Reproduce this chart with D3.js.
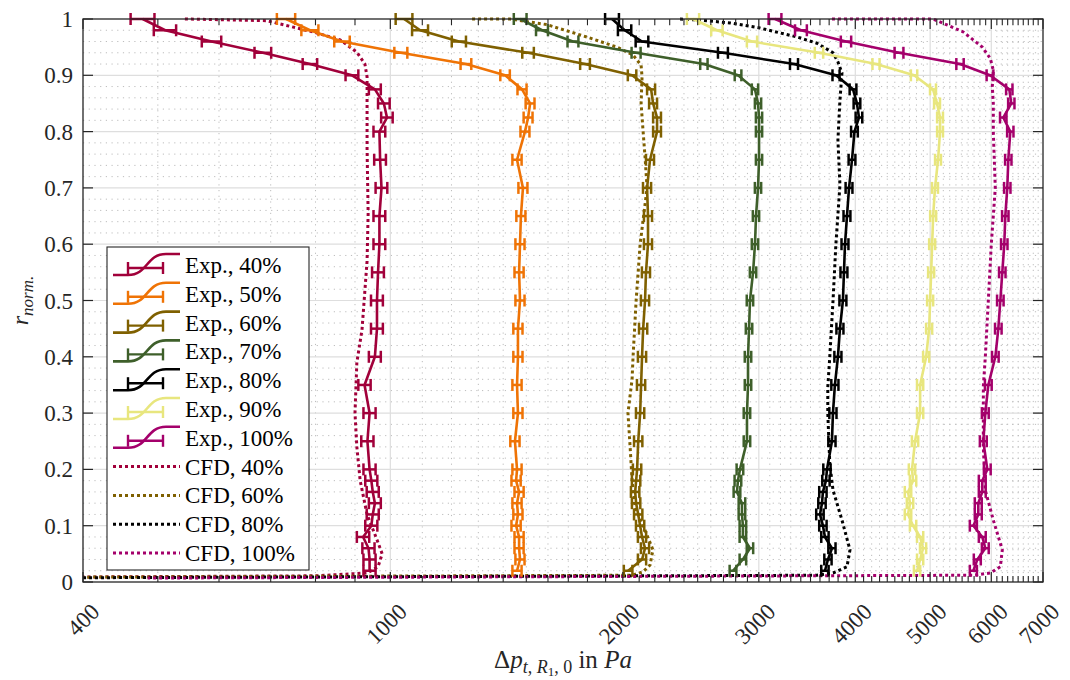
<!DOCTYPE html>
<html>
<head>
<meta charset="utf-8">
<script src="https://cdn.jsdelivr.net/npm/d3@7"></script>
<style>
  body { margin: 0; background: #fff; }
  text { font-family: "Liberation Serif", "Times New Roman", "DejaVu Serif", serif; fill: #262626; }
</style>
</head>
<body>
<div class="chart"></div>
<script>
// radial positions of the measurement points
var rExp = [1.0, 0.98, 0.96, 0.94, 0.92, 0.90, 0.875, 0.85, 0.825, 0.80, 0.75, 0.70, 0.65, 0.60, 0.55,
  0.50, 0.45, 0.40, 0.35, 0.30, 0.25, 0.20, 0.18, 0.16, 0.14, 0.12, 0.10, 0.08, 0.06, 0.04, 0.02];

// measured total pressure rise (Pa)
var exp40 = [478, 511, 587, 684, 787, 892, 955, 981, 990, 968, 970, 974, 968, 968, 964, 961, 961, 955, 926, 940, 934, 940, 945, 949, 955, 949, 945, 922, 937, 940, 940];
var exp50 = [733, 787, 866, 1032, 1253, 1408, 1481, 1517, 1508, 1494, 1459, 1485, 1476, 1472, 1468, 1472, 1463, 1463, 1459, 1463, 1450, 1459, 1455, 1468, 1459, 1463, 1455, 1468, 1468, 1472, 1459];
var exp60 = [1042, 1093, 1227, 1508, 1787, 2056, 2176, 2189, 2215, 2215, 2169, 2150, 2156, 2156, 2143, 2137, 2125, 2118, 2112, 2106, 2094, 2087, 2081, 2075, 2081, 2094, 2106, 2118, 2137, 2118, 2032];
var exp70 = [1473, 1572, 1724, 2081, 2547, 2820, 2966, 2993, 3002, 3002, 3002, 2993, 2975, 2966, 2949, 2922, 2914, 2905, 2905, 2896, 2896, 2836, 2819, 2811, 2853, 2853, 2861, 2861, 2922, 2861, 2778];
var exp80 = [1937, 2011, 2118, 2696, 3332, 3777, 3973, 4020, 4044, 3990, 3961, 3926, 3902, 3879, 3867, 3855, 3821, 3798, 3764, 3742, 3731, 3676, 3665, 3632, 3622, 3600, 3632, 3654, 3731, 3687, 3654];
var exp90 = [2466, 2648, 2940, 3590, 4255, 4766, 5043, 5104, 5150, 5150, 5119, 5073, 5045, 5030, 5015, 5000, 4985, 4941, 4853, 4853, 4780, 4737, 4752, 4681, 4709, 4681, 4752, 4853, 4896, 4853, 4809];
var exp100 = [3149, 3402, 3891, 4557, 5466, 5977, 6331, 6369, 6218, 6350, 6312, 6293, 6256, 6237, 6200, 6164, 6127, 6073, 5947, 5894, 5859, 5929, 5841, 5841, 5772, 5772, 5688, 5841, 5894, 5755, 5688];

// measurement uncertainty (+/- Pa) per speed
var expErr = [17, 20, 26, 28, 40, 45, 60];
var expNames = ["Exp., 40%", "Exp., 50%", "Exp., 60%", "Exp., 70%", "Exp., 80%", "Exp., 90%", "Exp., 100%"];

// CFD profiles
var cfdR40 = [1.0, 0.997, 0.977, 0.963, 0.941, 0.92, 0.897, 0.85, 0.77, 0.655, 0.57, 0.448, 0.39, 0.30, 0.24, 0.18, 0.12, 0.075, 0.05, 0.027, 0.016, 0.011, 0.008];
var cfdP40 = [542, 692, 794, 861, 905, 927, 933, 933, 933, 936, 933, 919, 905, 900, 905, 914, 933, 961, 976, 964, 933, 800, 300];
var cfdR60 = [1.0, 1.0, 0.99, 0.968, 0.95, 0.936, 0.918, 0.897, 0.85, 0.803, 0.755, 0.70, 0.60, 0.50, 0.40, 0.36, 0.30, 0.24, 0.18, 0.133, 0.092, 0.057, 0.03, 0.018, 0.012, 0.008];
var cfdP60 = [1276, 1429, 1595, 1797, 1966, 2062, 2112, 2118, 2112, 2124, 2137, 2150, 2106, 2081, 2062, 2056, 2031, 2044, 2056, 2075, 2137, 2188, 2169, 2124, 2056, 300];
var cfdR80 = [1.0, 0.998, 0.993, 0.984, 0.968, 0.957, 0.94, 0.924, 0.904, 0.856, 0.785, 0.705, 0.60, 0.50, 0.40, 0.346, 0.30, 0.21, 0.163, 0.11, 0.057, 0.027, 0.016, 0.012, 0.007];
var cfdP80 = [2372, 2518, 2753, 3010, 3362, 3568, 3743, 3798, 3844, 3821, 3798, 3821, 3775, 3743, 3707, 3685, 3685, 3707, 3743, 3844, 3937, 3902, 3743, 3568, 300];
var cfdR100 = [1.0, 1.0, 0.977, 0.95, 0.93, 0.909, 0.88, 0.85, 0.80, 0.70, 0.60, 0.50, 0.40, 0.347, 0.24, 0.163, 0.11, 0.057, 0.027, 0.016, 0.012, 0.007];
var cfdP100 = [3731, 5045, 5519, 5841, 5982, 6036, 6018, 6036, 6036, 6072, 6000, 5947, 5894, 5859, 5859, 5894, 6036, 6200, 6164, 5982, 5688, 485];
var cfdNames = ["CFD, 40%", "CFD, 60%", "CFD, 80%", "CFD, 100%"];

// axis ticks
var xTickValues = [400, 1000, 2000, 3000, 4000, 5000, 6000, 7000];
var yTickValues = [0, 0.1, 0.2, 0.3, 0.4, 0.5, 0.6, 0.7, 0.8, 0.9, 1];

var svgWidth = 1070;
var svgHeight = 680;
var margin = { top: 19, right: 27, bottom: 98, left: 83 };
var width = svgWidth - margin.left - margin.right;
var height = svgHeight - margin.top - margin.bottom;

var expColors = ["#a1003a", "#ef7305", "#7f6000", "#3e5f2a", "#000000", "#e8e67e", "#a4006b"];
var cfdColors = ["#a1003a", "#7f6000", "#000000", "#a4006b"];

var svg = d3.select(".chart").append("svg")
  .attr("width", svgWidth)
  .attr("height", svgHeight);

var chartGroup = svg.append("g")
  .attr("transform", `translate(${margin.left}, ${margin.top})`);

var x = d3.scaleLog().domain([400, 7000]).range([0, width]);
var y = d3.scaleLinear().domain([0, 1]).range([height, 0]);

// grid
var minorX = d3.range(500, 7000, 100).filter(v => v % 1000 !== 0);
var minorY = d3.range(1, 50).filter(i => i % 5 !== 0).map(i => i / 50);
var grid = chartGroup.append("g");
grid.selectAll(".mgx").data(minorX).enter().append("line")
  .attr("x1", d => x(d)).attr("x2", d => x(d)).attr("y1", 0).attr("y2", height)
  .attr("stroke", "#bdbdbd").attr("stroke-width", 1).attr("stroke-dasharray", "1.2,4.5");
grid.selectAll(".mgy").data(minorY).enter().append("line")
  .attr("x1", 0).attr("x2", width).attr("y1", d => y(d)).attr("y2", d => y(d))
  .attr("stroke", "#bdbdbd").attr("stroke-width", 1).attr("stroke-dasharray", "1.2,4.5");
grid.selectAll(".gx").data(xTickValues.slice(1, -1)).enter().append("line")
  .attr("x1", d => x(d)).attr("x2", d => x(d)).attr("y1", 0).attr("y2", height)
  .attr("stroke", "#dedede").attr("stroke-width", 1.2);
grid.selectAll(".gy").data(yTickValues.slice(1, -1)).enter().append("line")
  .attr("x1", 0).attr("x2", width).attr("y1", d => y(d)).attr("y2", d => y(d))
  .attr("stroke", "#dedede").attr("stroke-width", 1.2);

// clip horizontally only
svg.append("defs").append("clipPath").attr("id", "clip")
  .append("rect").attr("x", 0).attr("y", -15).attr("width", width).attr("height", height + 30);

var plotArea = chartGroup.append("g").attr("clip-path", "url(#clip)");

var line = d3.line().x(d => x(d.p)).y(d => y(d.r));

// CFD dotted curves
var cfdSets = [[cfdR40, cfdP40], [cfdR60, cfdP60], [cfdR80, cfdP80], [cfdR100, cfdP100]];
cfdSets.forEach(function(s, i) {
  var pts = s[0].map((r, j) => ({ r: r, p: s[1][j] }));
  plotArea.append("path")
    .datum(pts)
    .attr("d", line)
    .attr("fill", "none")
    .attr("stroke", cfdColors[i])
    .attr("stroke-width", 3)
    .attr("stroke-dasharray", "3,3");
});

// experimental curves with error bars
var expSets = [exp40, exp50, exp60, exp70, exp80, exp90, exp100];
expSets.forEach(function(vals, i) {
  var pts = rExp.map((r, j) => ({ r: r, p: vals[j] }));
  var g = plotArea.append("g");
  g.append("path")
    .datum(pts)
    .attr("d", line)
    .attr("fill", "none")
    .attr("stroke", expColors[i])
    .attr("stroke-width", 2.6)
    .attr("stroke-linejoin", "round");
  var e = expErr[i];
  var bars = g.selectAll(".eb").data(pts).enter().append("g")
    .attr("stroke", expColors[i]).attr("stroke-width", 2.5);
  bars.append("line")
    .attr("x1", d => x(d.p - e)).attr("x2", d => x(d.p + e))
    .attr("y1", d => y(d.r)).attr("y2", d => y(d.r));
  bars.append("line")
    .attr("x1", d => x(d.p - e)).attr("x2", d => x(d.p - e))
    .attr("y1", d => y(d.r) - 6).attr("y2", d => y(d.r) + 6);
  bars.append("line")
    .attr("x1", d => x(d.p + e)).attr("x2", d => x(d.p + e))
    .attr("y1", d => y(d.r) - 6).attr("y2", d => y(d.r) + 6);
});

// box and ticks
var axes = chartGroup.append("g").attr("stroke", "#262626");
axes.append("rect").attr("x", 0).attr("y", 0).attr("width", width).attr("height", height)
  .attr("fill", "none").attr("stroke-width", 1.3);
var minorTicks = d3.range(500, 7000, 100).filter(v => xTickValues.indexOf(v) < 0);
[0, height].forEach(function(yy) {
  var dir = yy === 0 ? 1 : -1;
  axes.selectAll(null).data(minorTicks).enter().append("line")
    .attr("x1", d => x(d)).attr("x2", d => x(d))
    .attr("y1", yy).attr("y2", yy + dir * 6).attr("stroke-width", 1.1);
  axes.selectAll(null).data(xTickValues).enter().append("line")
    .attr("x1", d => x(d)).attr("x2", d => x(d))
    .attr("y1", yy).attr("y2", yy + dir * 10).attr("stroke-width", 1.2);
});
[0, width].forEach(function(xx) {
  var dir = xx === 0 ? 1 : -1;
  axes.selectAll(null).data(yTickValues).enter().append("line")
    .attr("x1", xx).attr("x2", xx + dir * 10)
    .attr("y1", d => y(d)).attr("y2", d => y(d)).attr("stroke-width", 1.2);
});

// tick labels
chartGroup.selectAll(".ylab").data(yTickValues).enter().append("text")
  .attr("x", -10).attr("y", d => y(d)).attr("dy", "0.35em")
  .attr("text-anchor", "end").attr("font-size", 23)
  .text(d => String(+d.toFixed(1)));

chartGroup.selectAll(".xlab").data(xTickValues).enter().append("text")
  .attr("text-anchor", "end").attr("font-size", 23)
  .attr("transform", d => `translate(${x(d) + 18}, ${height + 31}) rotate(-45)`)
  .text(d => d);

// x axis title
var xt = chartGroup.append("text")
  .attr("x", width / 2).attr("y", height + 86)
  .attr("text-anchor", "middle").attr("font-size", 25);
xt.append("tspan").text("Δ");
xt.append("tspan").attr("font-style", "italic").text("p");
xt.append("tspan").attr("font-size", 18).attr("dy", 5).attr("font-style", "italic").text("t");
xt.append("tspan").attr("font-size", 18).text(", ");
xt.append("tspan").attr("font-size", 18).attr("font-style", "italic").text("R");
xt.append("tspan").attr("font-size", 13).attr("dy", 3).text("1");
xt.append("tspan").attr("font-size", 18).attr("dy", -3).text(", 0");
xt.append("tspan").attr("dy", -5).text(" in ");
xt.append("tspan").attr("font-style", "italic").text("Pa");

// y axis title
var yt = svg.append("text")
  .attr("transform", `translate(28, ${margin.top + height / 2}) rotate(-90)`)
  .attr("text-anchor", "middle").attr("font-size", 24).attr("font-style", "italic");
yt.append("tspan").text("r");
yt.append("tspan").attr("font-size", 17).attr("dy", 5).text("norm.");

// legend
var legend = svg.append("g");
legend.append("rect")
  .attr("x", 107).attr("y", 247).attr("width", 202).attr("height", 323)
  .attr("fill", "#fff").attr("stroke", "#262626").attr("stroke-width", 1.1);
var rowY = i => 265 + i * 28.8;
expNames.forEach(function(name, i) {
  var yc = rowY(i);
  var g = legend.append("g").attr("stroke", expColors[i]).attr("fill", "none").attr("stroke-width", 2.6);
  g.append("path")
    .attr("d", `M113,${yc + 10} L128,${yc + 10} C148,${yc + 10} 146,${yc - 11} 166,${yc - 11} L180,${yc - 11}`);
  g.append("line").attr("x1", 128).attr("x2", 163).attr("y1", yc + 3).attr("y2", yc + 3).attr("stroke-width", 2.4);
  g.append("line").attr("x1", 128).attr("x2", 128).attr("y1", yc - 3).attr("y2", yc + 9).attr("stroke-width", 2.4);
  g.append("line").attr("x1", 163).attr("x2", 163).attr("y1", yc - 3).attr("y2", yc + 9).attr("stroke-width", 2.4);
  legend.append("text").attr("x", 185).attr("y", yc).attr("dy", "0.35em")
    .attr("font-size", 23).style("fill", "#000").text(name);
});
cfdNames.forEach(function(name, i) {
  var yc = rowY(i + 7);
  legend.append("line").attr("x1", 113).attr("x2", 180).attr("y1", yc).attr("y2", yc)
    .attr("stroke", cfdColors[i]).attr("stroke-width", 3).attr("stroke-dasharray", "3,3");
  legend.append("text").attr("x", 185).attr("y", yc).attr("dy", "0.35em")
    .attr("font-size", 23).style("fill", "#000").text(name);
});
</script>
</body>
</html>
